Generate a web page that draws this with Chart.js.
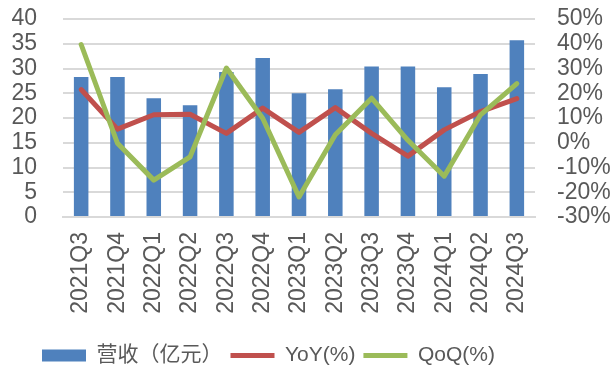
<!DOCTYPE html>
<html>
<head>
<meta charset="utf-8">
<script src="https://cdn.jsdelivr.net/npm/chart.js@4"></script>
<style>
  html, body { margin: 0; padding: 0; background: #fff; }
  #wrap { width: 613px; height: 369px; }
</style>
</head>
<body>
<div id="wrap"><canvas id="chart" width="613" height="369"></canvas></div>
<script>
// quarters
const quarters = ['2021Q3', '2021Q4', '2022Q1', '2022Q2', '2022Q3', '2022Q4', '2023Q1',
  '2023Q2', '2023Q3', '2023Q4', '2024Q1', '2024Q2', '2024Q3'];
// 营收 (亿元)
const revenue = [28.3, 28.3, 24.0, 22.6, 29.3, 32.1, 25.0, 25.8, 30.4, 30.4, 26.2, 28.9, 35.7];
// YoY (%)
const yoy = [21.5, 5.5, 11.3, 11.5, 3.8, 14.0, 4.2, 14.2, 3.8, -5.4, 5.2, 12.6, 17.8];
// QoQ (%)
const qoq = [39.7, -0.2, -15.1, -5.7, 30.2, 9.9, -21.9, 3.2, 18.0, 1.0, -13.5, 11.3, 23.9];

const textColor = '#595959';
const fontFamily = '"Liberation Sans", Arial, "Noto Sans CJK SC", sans-serif';
const tickFont = { family: fontFamily, size: 23 };

// drop the extra top/bottom room chart.js adds for tick padding
const fixY = (w) => (scale) => {
  scale.width = w;
  scale.paddingTop = 0;
  scale.paddingBottom = 0;
};

// legend sits a bit left of centre in the original
const legendShift = {
  id: 'legendShift',
  afterLayout(c) { c.legend.left += 34; }
};

const ctx = document.getElementById('chart').getContext('2d');
const chart = new Chart(ctx, {
  data: {
    labels: quarters,
    datasets: [
      {
        type: 'bar',
        label: '营收（亿元）',
        data: revenue,
        yAxisID: 'y',
        backgroundColor: '#4F81BD',
        borderWidth: 0,
        pointStyle: 'rect',
        barPercentage: 0.8,
        categoryPercentage: 0.5,
        order: 2
      },
      {
        type: 'line',
        label: 'YoY(%)',
        data: yoy,
        yAxisID: 'y1',
        borderColor: '#C0504D',
        backgroundColor: '#C0504D',
        borderWidth: 5,
        borderJoinStyle: 'round',
        borderCapStyle: 'round',
        pointRadius: 0,
        pointStyle: 'line',
        tension: 0,
        order: 1
      },
      {
        type: 'line',
        label: 'QoQ(%)',
        data: qoq,
        yAxisID: 'y1',
        borderColor: '#9BBB59',
        backgroundColor: '#9BBB59',
        borderWidth: 5,
        borderJoinStyle: 'round',
        borderCapStyle: 'round',
        pointRadius: 0,
        pointStyle: 'line',
        tension: 0,
        order: 0
      }
    ]
  },
  plugins: [legendShift],
  options: {
    responsive: false,
    animation: false,
    layout: { padding: { top: 19, left: 0, right: 0, bottom: -7 } },
    plugins: {
      tooltip: { enabled: false },
      legend: {
        position: 'bottom',
        align: 'start',
        labels: {
          usePointStyle: true,
          pointStyleWidth: 44,
          boxHeight: 12,
          padding: 8,
          color: textColor,
          font: { family: fontFamily, size: 21 },
          sort: (a, b) => a.datasetIndex - b.datasetIndex
        }
      }
    },
    scales: {
      x: {
        grid: { display: false, drawTicks: false },
        border: { color: '#D9D9D9', width: 2 },
        ticks: {
          color: textColor,
          font: tickFont,
          minRotation: 90,
          maxRotation: 90,
          padding: 15,
          autoSkip: false
        },
        afterFit: (scale) => { scale.height = 120; }
      },
      y: {
        position: 'left',
        min: 0,
        max: 40,
        grid: { color: '#D9D9D9', lineWidth: 2, drawTicks: false },
        border: { display: false },
        ticks: {
          stepSize: 5,
          padding: 26,
          autoSkip: false,
          color: textColor,
          font: tickFont
        },
        afterFit: fixY(63)
      },
      y1: {
        position: 'right',
        min: -30,
        max: 50,
        grid: { display: false, drawTicks: false },
        border: { display: false },
        ticks: {
          stepSize: 10,
          padding: 22,
          autoSkip: false,
          color: textColor,
          font: tickFont,
          callback: (v) => v + '%'
        },
        afterFit: fixY(78)
      }
    }
  }
});
</script>
</body>
</html>
